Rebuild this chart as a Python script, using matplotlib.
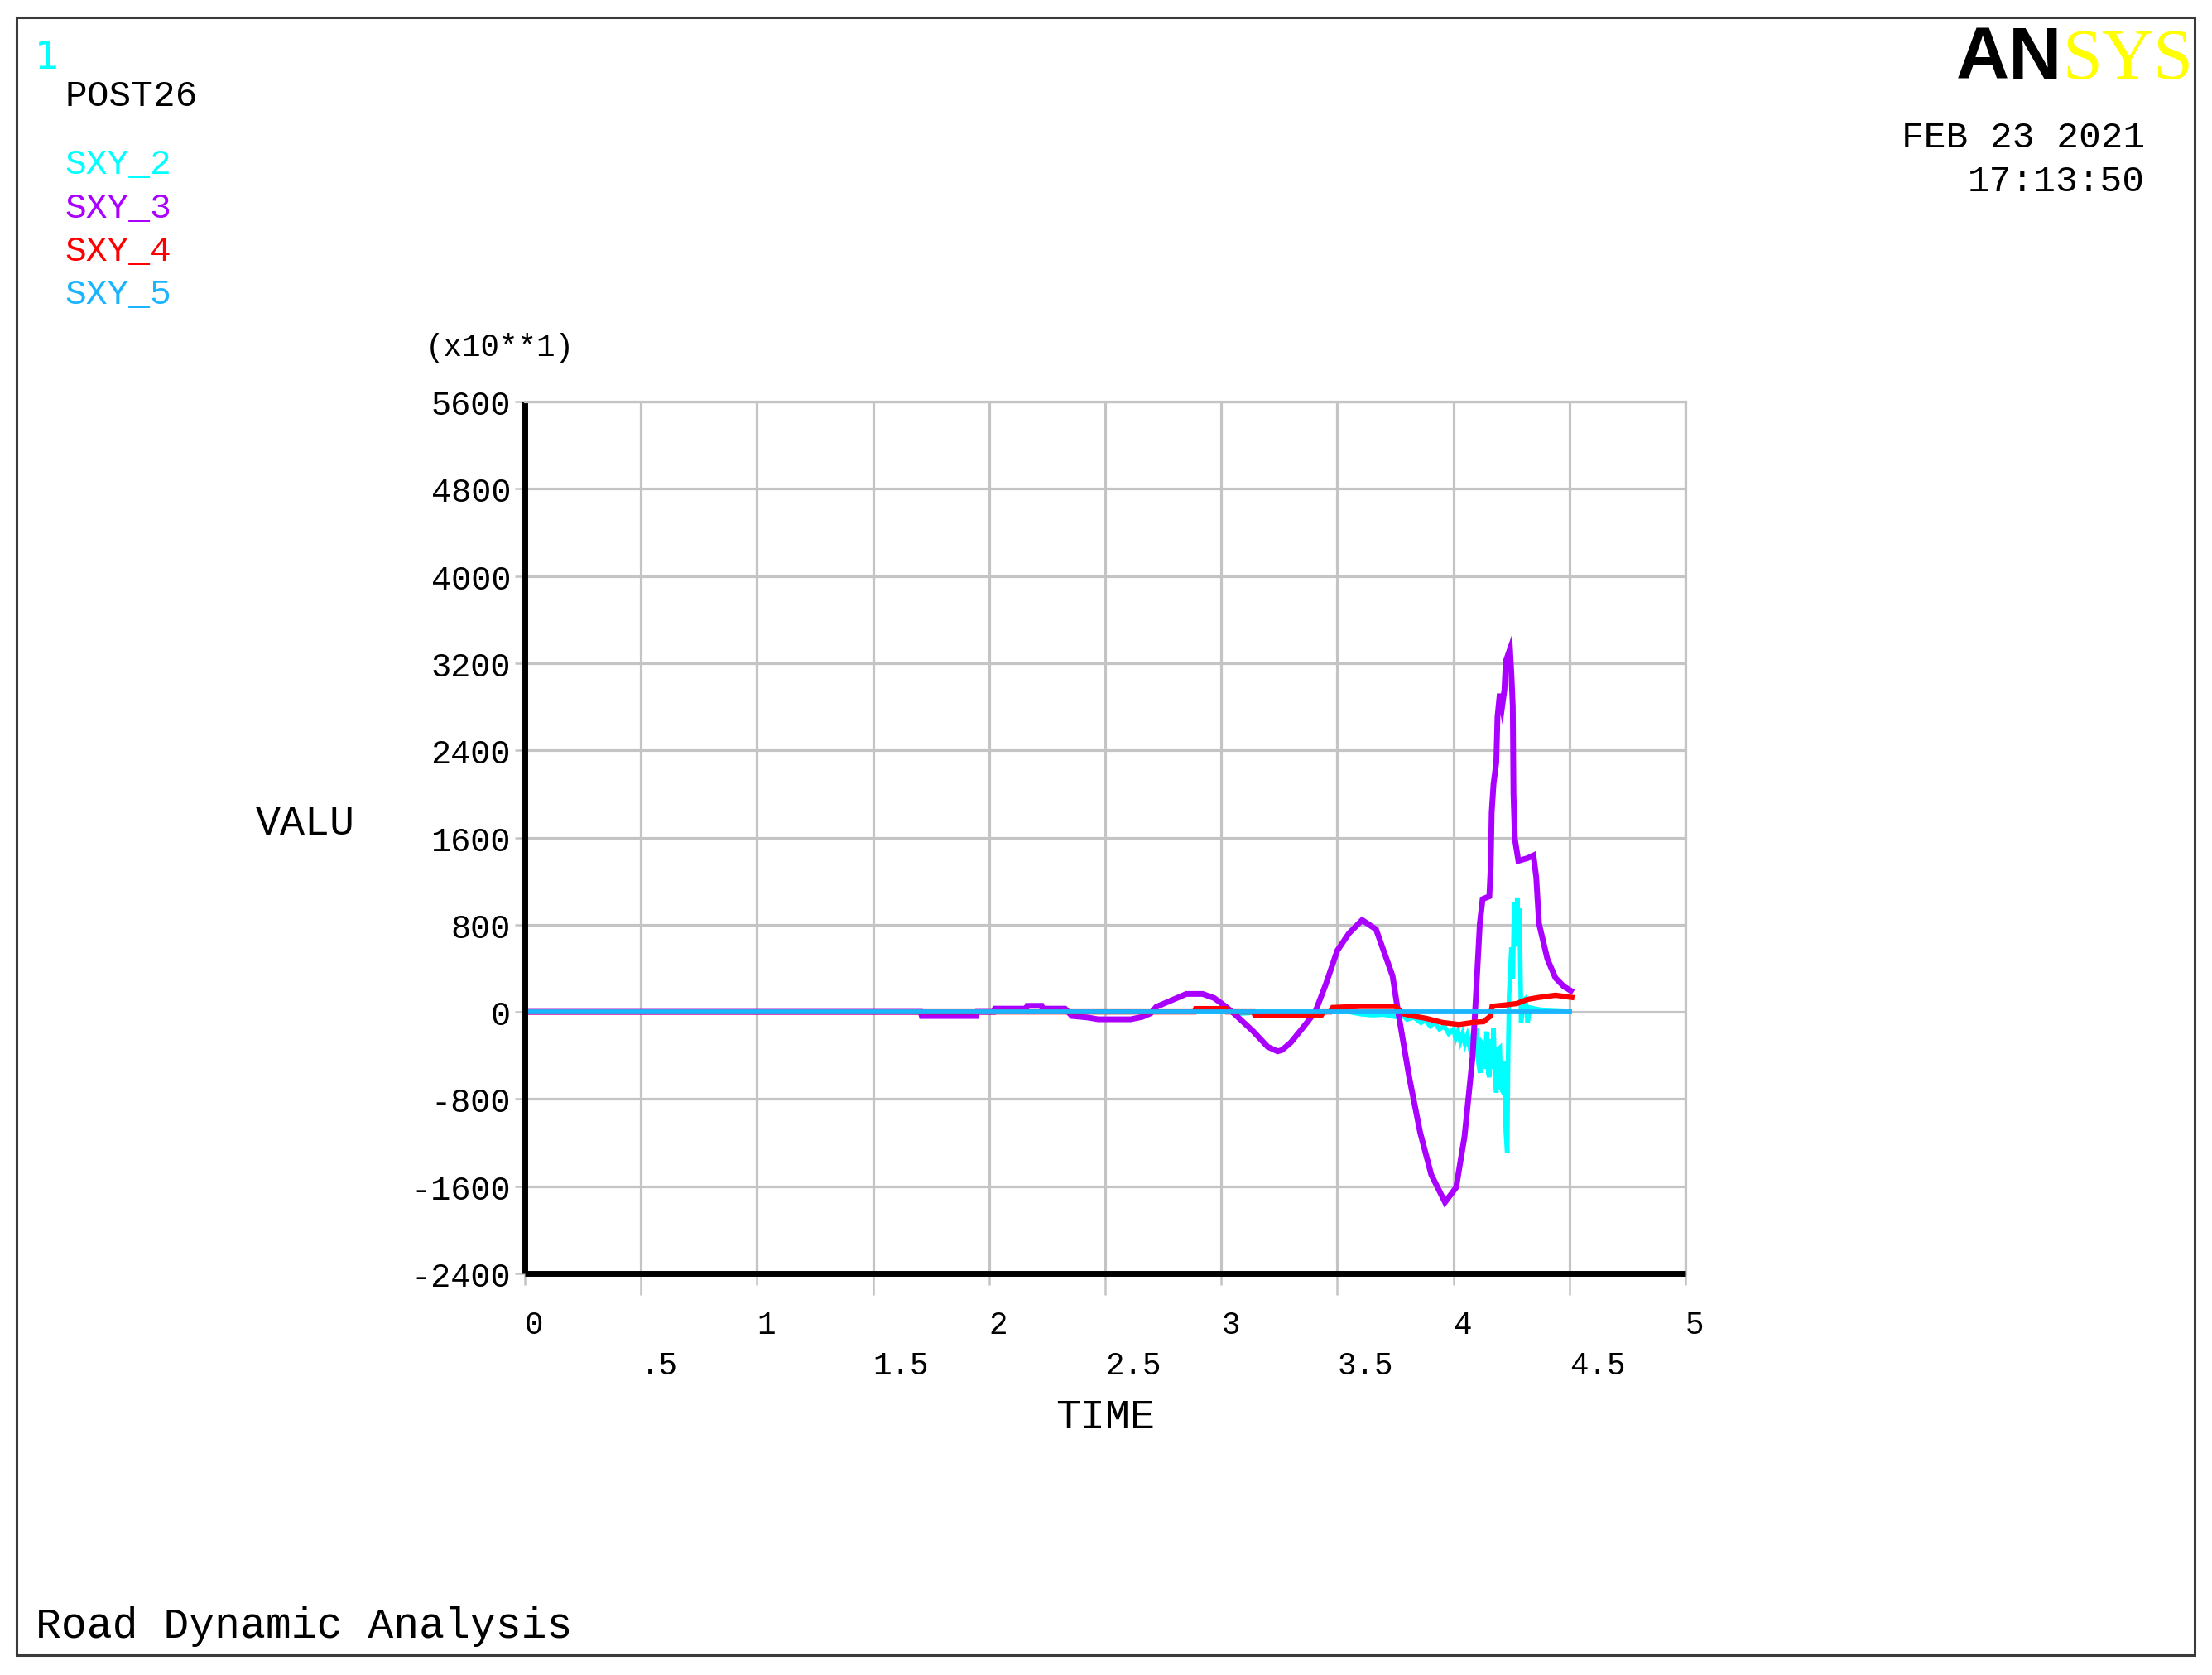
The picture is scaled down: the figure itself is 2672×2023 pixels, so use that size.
import matplotlib
matplotlib.use("Agg")
import matplotlib.pyplot as plt
from matplotlib.patches import Rectangle

# values are in units of x10 (axis label "(x10**1)")
time_sxy2 = [0.0, 3.05, 3.08, 3.12, 3.15, 3.55, 3.60, 3.65, 3.70, 3.75, 3.78, 3.80,
             3.83, 3.86, 3.88, 3.90, 3.92, 3.94, 3.96, 3.98, 4.00, 4.01, 4.02, 4.03,
             4.04, 4.05, 4.06, 4.07, 4.08, 4.09, 4.10, 4.107, 4.115, 4.122, 4.13,
             4.137, 4.143, 4.15, 4.155, 4.162, 4.168, 4.173, 4.18, 4.185, 4.19, 4.20,
             4.205, 4.21, 4.215, 4.22, 4.226, 4.232, 4.236, 4.24, 4.25, 4.256, 4.262,
             4.268, 4.275, 4.28, 4.285, 4.292, 4.30, 4.31, 4.32, 4.33, 4.35, 4.40,
             4.50]
sxy2 = [0, 0, -15, -10, 0, 0, -20, -30, -25, -45, -30, -70,
        -50, -100, -80, -130, -100, -160, -130, -200, -160, -240, -180, -270,
        -200, -290, -220, -320, -240, -330, -150, -450, -560, -280, -300,
        -520, -180, -560, -600, -250, -520, -150, -620, -740, -350, -330,
        -700, -720, -450, -560, -1100, -1290, -400, 150, 590, 300, 1000,
        600, 1050, 700, 950, -100, 100, 120, -100, 40, 30, 10,
        0]

time_sxy3 = [0.0, 1.705, 1.71, 1.945, 1.95, 2.02, 2.025, 2.16, 2.165, 2.226, 2.23,
             2.327, 2.357, 2.423, 2.47, 2.61, 2.66, 2.696, 2.72, 2.78, 2.85, 2.92,
             2.97, 3.018, 3.054, 3.137, 3.20, 3.243, 3.262, 3.30, 3.35, 3.405, 3.45,
             3.50, 3.55, 3.607, 3.667, 3.738, 3.762, 3.81, 3.857, 3.905, 3.964,
             4.012, 4.048, 4.083, 4.095, 4.114, 4.126, 4.155, 4.161, 4.165, 4.173,
             4.185, 4.19, 4.20, 4.21, 4.22, 4.226, 4.244, 4.25, 4.256, 4.259, 4.265,
             4.28, 4.32, 4.345, 4.357, 4.369, 4.405, 4.44, 4.476, 4.506]
sxy3 = [0, 0, -38, -38, 0, 0, 30, 30, 56, 56, 30,
        30, -38, -51, -68, -68, -46, -13, 46, 101, 165, 165,
        127, 51, -13, -177, -320, -362, -350, -280, -150, 0, 250,
        563, 720, 843, 757, 330, 0, -602, -1107, -1495, -1747,
        -1611, -1145, -408, 58, 809, 1035, 1060, 1336, 1826, 2090,
        2290, 2705, 2919, 2800, 2956, 3220, 3330, 3100, 2800, 2000, 1587,
        1386, 1411, 1436, 1236, 809, 485, 311, 233, 194]

time_sxy4 = [0.0, 2.885, 2.89, 3.02, 3.025, 3.14, 3.145, 3.43, 3.44, 3.47, 3.48,
             3.60, 3.75, 3.786, 3.83, 3.88, 3.952, 4.024, 4.083, 4.13, 4.16,
             4.167, 4.226, 4.274, 4.32, 4.369, 4.44, 4.51]
sxy4 = [0, 0, 30, 30, 0, 0, -35, -35, 0, 0, 40,
        50, 50, -19, -40, -58, -97, -116, -97, -90, -38,
        51, 64, 77, 115, 133, 153, 133]

time_sxy5 = [0.0, 4.5]
sxy5 = [0, 0]

series = [
    ("SXY_2", time_sxy2, sxy2, "#00FFFF", 4.0),
    ("SXY_3", time_sxy3, sxy3, "#AA00FF", 5.0),
    ("SXY_4", time_sxy4, sxy4, "#FF0000", 4.6),
    ("SXY_5", time_sxy5, sxy5, "#1AB4FF", 4.2),
]

x_major = [0, 1, 2, 3, 4, 5]
x_major_labels = ["0", "1", "2", "3", "4", "5"]
x_minor = [0.5, 1.5, 2.5, 3.5, 4.5]
x_minor_labels = [".5", "1.5", "2.5", "3.5", "4.5"]
y_ticks = [-2400, -1600, -800, 0, 800, 1600, 2400, 3200, 4000, 4800, 5600]
y_labels = ["-2400", "-1600", "-800", "0", "800", "1600", "2400", "3200",
            "4000", "4800", "5600"]

W, H = 2672, 2024
MONO = "Liberation Mono"
GRID = "#C4C4C4"


def fx(px):
    return px / W


def fy(py):
    return 1 - py / H


fig = plt.figure(figsize=(W / 100, H / 100), dpi=100)
fig.patch.set_facecolor("white")

ax = fig.add_axes([fx(634), fy(1539), fx(2036) - fx(634), fy(486) - fy(1539)])
ax.set_xlim(0, 5)
ax.set_ylim(-2400, 5600)

for name, t, v, color, lw in series:
    ax.plot(t, v, color=color, linewidth=lw, solid_joinstyle="miter", label=name)

ax.set_axisbelow(True)
ax.grid(axis="x", which="both", color=GRID, linewidth=2.3)
ax.grid(axis="y", which="major", color=GRID, linewidth=2.3)

for side in ("left", "bottom"):
    ax.spines[side].set_color("black")
    ax.spines[side].set_linewidth(5)
    ax.spines[side].set_capstyle("butt")
for side in ("top", "right"):
    ax.spines[side].set_color(GRID)
    ax.spines[side].set_linewidth(2.3)

ax.set_yticks(y_ticks)
ax.set_yticklabels(y_labels, fontfamily=MONO, fontsize=29)
ax.set_xticks(x_major)
ax.set_xticklabels(x_major_labels, fontfamily=MONO, fontsize=27)
ax.set_xticks(x_minor, minor=True)
ax.set_xticklabels(x_minor_labels, minor=True, fontfamily=MONO, fontsize=27)
for lbl in ax.get_xticklabels() + ax.get_xticklabels(minor=True):
    lbl.set_horizontalalignment("left")

ax.tick_params(axis="y", which="major", length=8.6, width=1.8, color=GRID, pad=3.6)
ax.tick_params(axis="x", which="major", length=10, width=1.8, color=GRID, pad=22)
ax.tick_params(axis="x", which="minor", length=18.7, width=1.8, color=GRID, pad=48)

# outer frame
fig.patches.append(Rectangle((fx(20), fy(2000)), fx(2651) - fx(20), fy(22) - fy(2000),
                             transform=fig.transFigure, fill=False,
                             edgecolor="#3A3A3A", linewidth=2.2))

fig.text(fx(42), fy(83), "1", color="#00FFFF", fontsize=34, family="DejaVu Sans",
         va="baseline")
fig.text(fx(78), fy(128), "POST26", fontsize=32, family=MONO, va="baseline")
for i, (name, _, _, color, _) in enumerate(series):
    fig.text(fx(78), fy(210 + 52.5 * i), name, color=color, fontsize=31,
             family=MONO, va="baseline")

fig.text(fx(2491), fy(95), "AN", fontsize=64, family="Liberation Sans",
         weight="bold", ha="right", va="baseline", color="black")
fig.text(fx(2491), fy(95), "SYS", fontsize=62, family="Liberation Serif",
         ha="left", va="baseline", color="#FFFF00")
fig.text(fx(2591), fy(178), "FEB 23 2021", fontsize=32, family=MONO,
         ha="right", va="baseline")
fig.text(fx(2591), fy(231), "17:13:50", fontsize=32, family=MONO,
         ha="right", va="baseline")

fig.text(fx(514), fy(430), "(x10**1)", fontsize=27, family=MONO, va="baseline")
fig.text(fx(369), fy(995), "VALU", fontsize=36, family=MONO, ha="center", va="center")
fig.text(fx(1335), fy(1712), "TIME", fontsize=36, family=MONO, ha="center", va="center")
fig.text(fx(43), fy(1978), "Road Dynamic Analysis", fontsize=37, family=MONO,
         va="baseline")

fig.savefig("out.png", dpi=100)
plt.close(fig)
